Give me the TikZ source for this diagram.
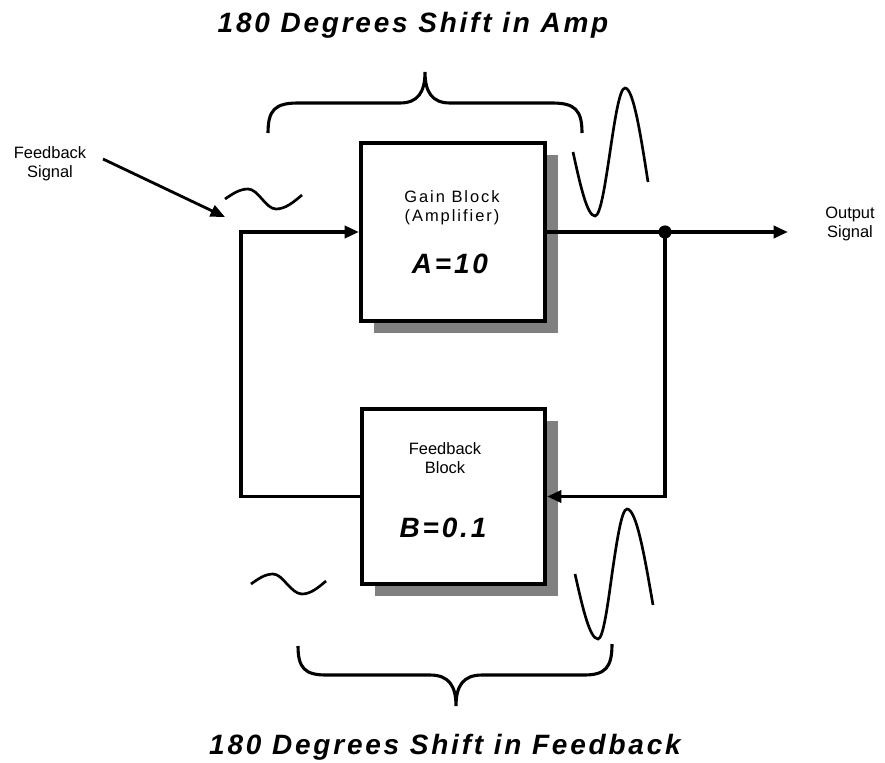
\documentclass[tikz,border=0pt]{standalone}
\usepackage{fontspec}
\setmainfont{Liberation Sans}
\newfontfamily\widebf[LetterSpace=10]{Liberation Sans}
\newfontfamily\widesf[LetterSpace=12]{Liberation Sans}
\usetikzlibrary{arrows.meta,shadows}
\begin{document}
\begin{tikzpicture}[x=0.025cm, y=-0.025cm,
  blockbox/.style={draw, fill=white, line width=2.8pt,
    drop shadow={shadow xshift=0.325cm, shadow yshift=-0.3cm, fill=black!50, opacity=1}},
  conn/.style={line width=2.6pt},
  tip/.style={-{Triangle[length=0.36cm, width=0.3cm]}},
  wave/.style={line width=1.9pt},
  bracepath/.style={line width=2.2pt},
  lbl/.style={font=\fontsize{11.7}{13.5}\selectfont, align=center, inner sep=0pt},
  value/.style={font=\widebf\fontsize{19.9}{22}\selectfont\bfseries\itshape, inner sep=0pt, anchor=base},
  heading/.style={font=\widebf\fontsize{19.9}{22}\selectfont\bfseries\itshape, inner sep=0pt, anchor=base},
  dotnode/.style={circle, fill, inner sep=0pt, minimum size=0.33cm}]
  \useasboundingbox (0,0) rectangle (885,762);

  % headings
  \node[heading] (ttop) at (413,33) {180 Degrees Shift in Amp};
  \node[heading] (tbot) at (445,754) {180 Degrees Shift in Feedback};

  % blocks
  \node[blockbox, minimum width=4.6cm, minimum height=4.45cm] (gain) at (453,232) {};
  \node[blockbox, minimum width=4.575cm, minimum height=4.375cm] (fbblock) at (453.5,496.5) {};
  \node[lbl, font=\widesf\fontsize{11.7}{13.5}\selectfont] (gaintxt) at (452,208) {Gain Block\\(Amplifier)};
  \node[value] (aval) at (450,273) {A=10};
  \node[lbl] (fbtxt) at (445,458) {Feedback\\Block};
  \node[value] (bval) at (443,537) {B=0.1};

  % signal labels
  \node[lbl] (fbsig) at (50,164) {Feedback\\Signal};
  \node[lbl] (outsig) at (850,224) {Output\\Signal};
  \coordinate (fbstart) at (103,159);
  \coordinate (fbend) at (225,217);
  \draw[line width=2pt, tip] (fbstart) -- (fbend);

  % loop
  \node[dotnode] (tap) at (665,232) {};
  \coordinate (outend) at (788,232);
  \coordinate (lcorner) at (241,496.5);
  \draw[conn, tip] (fbblock.west) -- (lcorner) |- (gain.west);
  \draw[line width=2.3pt] (gain.east) -- (tap.center);
  \draw[conn, tip] (tap.center) -- (outend);
  \draw[conn, tip] (tap.center) |- (fbblock.east);

  % waves
  \draw[wave] (225,199) sin (248,189) cos (262,199) sin (276,209) cos (302,195);
  \draw[wave] (251,584) sin (273,574) cos (287,584) sin (302,594) cos (326,581);
  \draw[wave] (573,152) sin (595,216) cos (610,152) sin (625,88) cos (648,182);
  \draw[wave] (575,574) sin (598,639) cos (612,574) sin (627,509) cos (653,605);

  % braces
  \draw[bracepath] (268,133) .. controls (268,110) and (275,103) .. (298,103) -- (400,103)
    .. controls (418,103) and (425,92) .. (425,72)
    .. controls (425,92) and (432,103) .. (450,103) -- (552,103)
    .. controls (575,103) and (582,110) .. (582,133);
  \draw[bracepath] (298,646) .. controls (298,668) and (305,675) .. (326,675) -- (430,675)
    .. controls (449,675) and (456,686) .. (456,706)
    .. controls (456,686) and (463,675) .. (482,675) -- (584,675)
    .. controls (605,675) and (612,668) .. (612,644);
\end{tikzpicture}
\end{document}
